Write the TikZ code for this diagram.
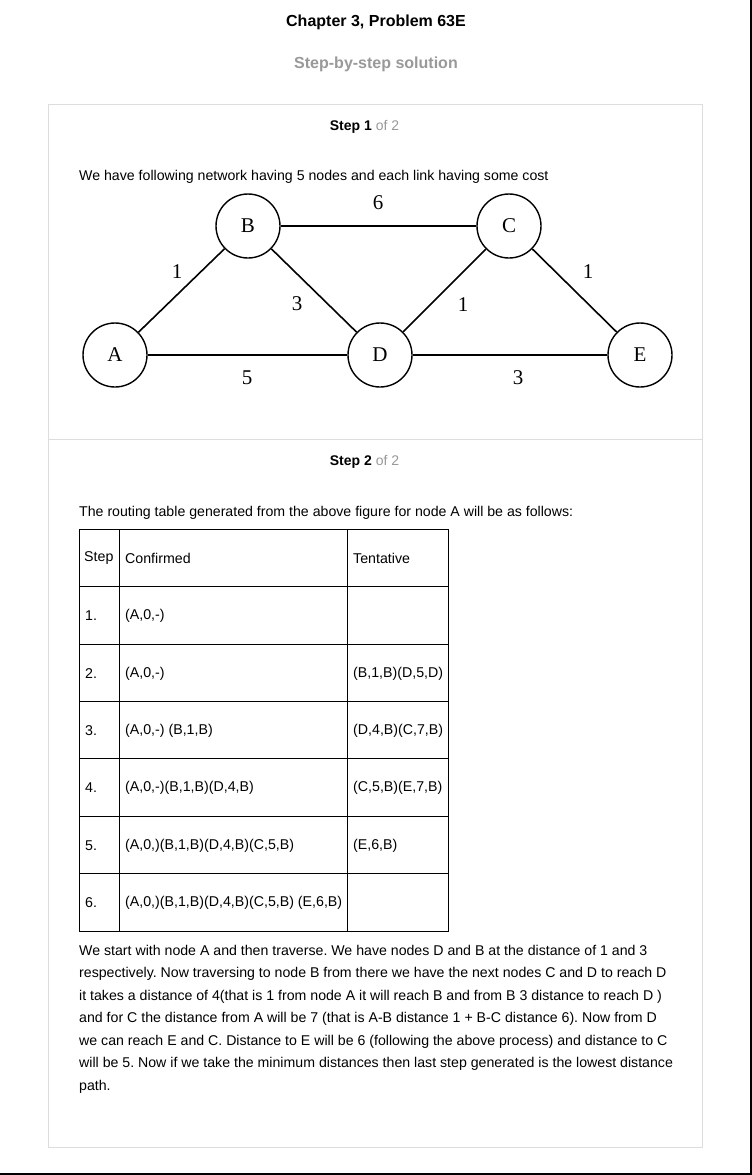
\documentclass[tikz,border=0pt]{standalone}
\usepackage{fontspec}
\setmainfont{Liberation Sans}
\newfontfamily\grfont{Liberation Serif}
\definecolor{cardgray}{HTML}{DDDDDD}
\definecolor{txtgray}{HTML}{999999}
\begin{document}
\frenchspacing
\begin{tikzpicture}[x=1pt,y=-1pt,
  body/.style={anchor=base west,inner sep=0pt,font=\fontsize{14.15}{17}\selectfont},
  cell/.style={anchor=west,inner sep=0pt,font=\fontsize{14.2}{17}\selectfont},
  vert/.style={circle,draw,line width=1.4pt,minimum size=64pt,inner sep=0pt,font=\grfont\fontsize{21}{24}\selectfont},
  edge/.style={line width=1.6pt},
  wt/.style={inner sep=0pt,font=\grfont\fontsize{21}{24}\selectfont},
  grid/.style={line width=0.9pt}]
\useasboundingbox (0,0) rectangle (752,1175);
\fill[white] (0,0) rectangle (752,1175);
% outer black border (right & bottom)
\draw[line width=1.5pt] (751,0) -- (751,1174) -- (0,1174);
% header
\node[inner sep=0pt,font=\bfseries\fontsize{16}{19}\selectfont] (title) at (376,22.5) {Chapter 3, Problem 63E};
\node[inner sep=0pt,text=txtgray,font=\bfseries\fontsize{16}{19}\selectfont] (sub) at (376,64.5) {Step-by-step solution};
% card
\draw[cardgray,line width=1pt] (48.5,104.5) rectangle (702.5,1147.5);
\draw[cardgray,line width=1pt] (48.5,439.5) -- (702.5,439.5);
\node[inner sep=0pt,font=\fontsize{14}{17}\selectfont] (s1) at (364.5,126.5) {\textbf{Step 1} \textcolor{txtgray}{of 2}};
\node[inner sep=0pt,font=\fontsize{14}{17}\selectfont] (s2) at (364.5,461.5) {\textbf{Step 2} \textcolor{txtgray}{of 2}};
\node[body] (intro) at (79,180) {We have following network having 5 nodes and each link having some cost};
% graph
\node[vert] (A) at (115,355) {A};
\node[vert] (B) at (248,226) {B};
\node[vert] (C) at (509,226) {C};
\node[vert] (D) at (380,355) {D};
\node[vert] (E) at (640,355) {E};
\draw[edge] (A) -- (B);
\draw[edge] (B) -- (C);
\draw[edge] (B) -- (D);
\draw[edge] (C) -- (D);
\draw[edge] (C) -- (E);
\draw[edge] (A) -- (D);
\draw[edge] (D) -- (E);
\node[wt] (w6) at (378,203) {6};
\node[wt] (w1a) at (177,272) {1};
\node[wt] (w3a) at (297,304) {3};
\node[wt] (w1b) at (463,305) {1};
\node[wt] (w1c) at (588,272) {1};
\node[wt] (w5) at (247,378) {5};
\node[wt] (w3b) at (518,378) {3};
% step 2
\node[body] (rt) at (79,516) {The routing table generated from the above figure for node A will be as follows:};
% table grid
\draw[grid] (79,529) rectangle (448,931);
\foreach \yy in {586,644,701,758,816,873} \draw[grid] (79,\yy) -- (448,\yy);
\draw[grid] (119,529) -- (119,931);
\draw[grid] (347,529) -- (347,931);
\node[cell] (h1) at (84,558.5) {Step};
\node[cell] (h2) at (125,558.5) {Confirmed};
\node[cell] (h3) at (353,558.5) {Tentative};
\node[cell] (r1a) at (85,615.5) {1.};
\node[cell] (r1b) at (125,615.5) {(A,0,-)};
\node[cell] (r2a) at (85,673.5) {2.};
\node[cell] (r2b) at (125,673.5) {(A,0,-)};
\node[cell] (r2c) at (353,673.5) {(B,1,B)(D,5,D)};
\node[cell] (r3a) at (85,730.5) {3.};
\node[cell] (r3b) at (125,730.5) {(A,0,-) (B,1,B)};
\node[cell] (r3c) at (353,730.5) {(D,4,B)(C,7,B)};
\node[cell] (r4a) at (85,787.5) {4.};
\node[cell] (r4b) at (125,787.5) {(A,0,-)(B,1,B)(D,4,B)};
\node[cell] (r4c) at (353,787.5) {(C,5,B)(E,7,B)};
\node[cell] (r5a) at (85,845.5) {5.};
\node[cell] (r5b) at (125,845.5) {(A,0,)(B,1,B)(D,4,B)(C,5,B)};
\node[cell] (r5c) at (353,845.5) {(E,6,B)};
\node[cell] (r6a) at (85,902.5) {6.};
\node[cell] (r6b) at (125,902.5) {(A,0,)(B,1,B)(D,4,B)(C,5,B) (E,6,B)};
% paragraph
\node[body] (p1) at (79,955) {We start with node A and then traverse. We have nodes D and B at the distance of 1 and 3};
\node[body] (p2) at (79,977.5) {respectively. Now traversing to node B from there we have the next nodes C and D to reach D};
\node[body] (p3) at (79,1000) {it takes a distance of 4(that is 1 from node A it will reach B and from B 3 distance to reach D )};
\node[body] (p4) at (79,1022.5) {and for C the distance from A will be 7 (that is A-B distance 1 + B-C distance 6). Now from D};
\node[body] (p5) at (79,1045) {we can reach E and C. Distance to E will be 6 (following the above process) and distance to C};
\node[body] (p6) at (79,1067.5) {will be 5. Now if we take the minimum distances then last step generated is the lowest distance};
\node[body] (p7) at (79,1090) {path.};
\end{tikzpicture}
\end{document}
